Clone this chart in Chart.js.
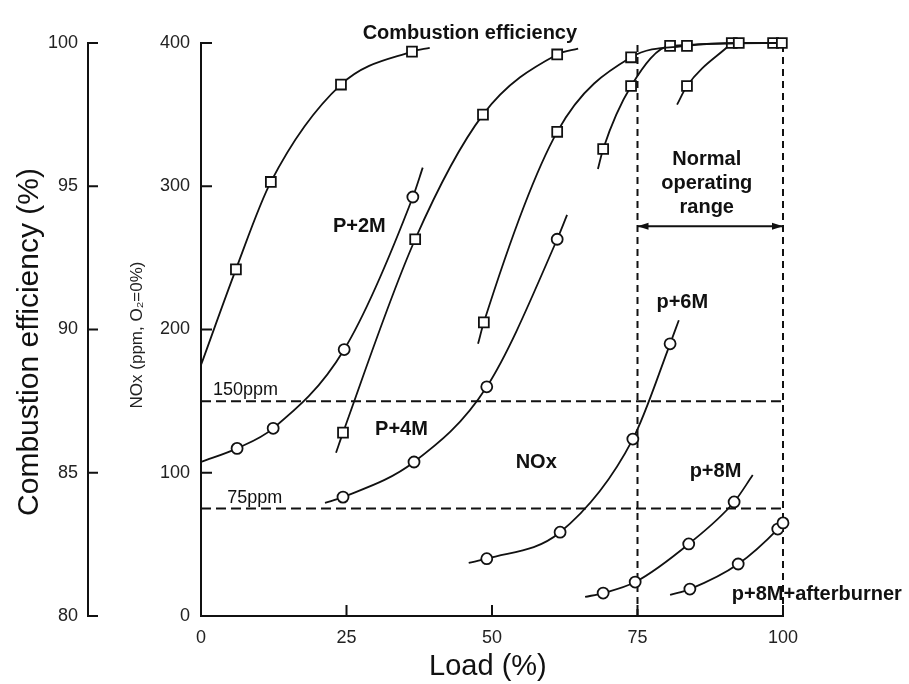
<!DOCTYPE html>
<html>
<head>
<meta charset="utf-8">
<script src="https://cdn.jsdelivr.net/npm/chart.js@4.4.0/dist/chart.umd.min.js"></script>
<style>
  html, body { margin: 0; padding: 0; background: #fff; }
</style>
</head>
<body>
<canvas id="myChart" width="909" height="684"></canvas>
<script>
// tick labels
var loadTicks = [0, 25, 50, 75, 100];
var noxTicks = [0, 100, 200, 300, 400];
var effTicks = [80, 85, 90, 95, 100];

// NOx (ppm) against load (%), circles
var loadP2M = [0, 6.2, 12.4, 24.6, 36.4, 38.1];
var noxP2M = [107.5, 117, 131, 186, 292.5, 313];
var loadP4M = [21.3, 24.4, 36.6, 49.1, 61.2, 62.9];
var noxP4M = [79, 83, 107.5, 160, 263, 280];
var loadP6M = [46.0, 49.1, 61.7, 74.2, 80.6, 82.1];
var noxP6M = [37, 40, 58.5, 123.5, 190, 206.5];
var loadP8M = [66.0, 69.1, 74.6, 83.8, 91.6, 94.8];
var noxP8M = [13.3, 16, 23.7, 50.3, 79.6, 98.4];
var loadAB = [80.6, 84.0, 92.3, 99.1, 100];
var noxAB = [14.7, 18.8, 36.3, 60.7, 65];

// combustion efficiency (%) against load (%), squares
var loadEffA = [0, 6.0, 12.0, 24.05, 36.25, 39.3];
var effA = [88.76, 92.1, 95.15, 98.55, 99.7, 99.83];
var loadEffB = [23.2, 24.4, 36.8, 48.45, 61.2, 64.8];
var effB = [85.7, 86.4, 93.15, 97.5, 99.6, 99.8];
var loadEffC = [47.6, 48.6, 61.2, 73.9, 83.5, 92.4, 99.8];
var effC = [89.5, 90.25, 96.9, 99.5, 99.9, 100, 100];
var loadEffD = [68.2, 69.1, 73.9, 80.6, 98.3];
var effD = [95.6, 96.3, 98.5, 99.9, 100];
var loadEffE = [81.8, 83.5, 91.2];
var effE = [97.85, 98.5, 100];

// reference limits (ppm) and normal operating range (load %)
var limitsPpm = [150, 75];
var normalRange = [75, 100];
var rangeArrowAt = 272;

var labelFont = 'bold 20px "Liberation Sans", Arial, sans-serif';
var plainFont = '18px "Liberation Sans", Arial, sans-serif';

// text notes placed in data units (load, NOx ppm)
var notes = [
    { text: 'Combustion efficiency', x: 46.2, y: 403, align: 'center', font: labelFont },
    { text: 'P+2M', x: 27.2, y: 268, align: 'center', font: labelFont },
    { text: 'P+4M', x: 34.45, y: 126.4, align: 'center', font: labelFont },
    { text: 'NOx', x: 57.6, y: 103.3, align: 'center', font: labelFont },
    { text: 'p+6M', x: 82.7, y: 215, align: 'center', font: labelFont },
    { text: 'p+8M', x: 88.4, y: 97, align: 'center', font: labelFont },
    { text: 'p+8M+afterburner', x: 91.2, y: 11.2, align: 'left', font: labelFont },
    { text: 'Normal', x: 86.9, y: 315, align: 'center', font: labelFont },
    { text: 'operating', x: 86.9, y: 298, align: 'center', font: labelFont },
    { text: 'range', x: 86.9, y: 281, align: 'center', font: labelFont },
    { text: '150ppm', x: 2.06, y: 154, align: 'left', font: plainFont },
    { text: '75ppm', x: 4.5, y: 79, align: 'left', font: plainFont }
];

function curve(loads, vals, axis, style, bareEnd) {
    var pts = loads.map(function (l, i) { return { x: l, y: vals[i] }; });
    var n = pts.length;
    var r = style === 'rect' ? 7 : 5.5;
    return {
        data: pts,
        yAxisID: axis,
        borderColor: '#111',
        borderWidth: 1.8,
        fill: false,
        cubicInterpolationMode: 'monotone',
        pointStyle: style,
        pointRadius: pts.map(function (p, i) { return (i === 0 || (i === n - 1 && bareEnd)) ? 0 : r; }),
        pointBackgroundColor: '#fff',
        pointBorderColor: '#111',
        pointBorderWidth: 1.8,
        clip: false
    };
}

function dashed(pts, dash) {
    return {
        data: pts,
        yAxisID: 'y',
        borderColor: '#111',
        borderWidth: 2,
        borderDash: dash,
        pointRadius: 0,
        fill: false,
        clip: false
    };
}

var datasets = [
    curve(loadP2M, noxP2M, 'y', 'circle', true),
    curve(loadP4M, noxP4M, 'y', 'circle', true),
    curve(loadP6M, noxP6M, 'y', 'circle', true),
    curve(loadP8M, noxP8M, 'y', 'circle', true),
    curve(loadAB, noxAB, 'y', 'circle', false),
    curve(loadEffA, effA, 'eff', 'rect', true),
    curve(loadEffB, effB, 'eff', 'rect', true),
    curve(loadEffC, effC, 'eff', 'rect', false),
    curve(loadEffD, effD, 'eff', 'rect', false),
    curve(loadEffE, effE, 'eff', 'rect', false),
    // arrow shaft of the normal operating range
    dashed([{ x: normalRange[0], y: rangeArrowAt }, { x: normalRange[1], y: rangeArrowAt }], [])
];
limitsPpm.forEach(function (v) {
    datasets.push(dashed([{ x: loadTicks[0], y: v }, { x: loadTicks[loadTicks.length - 1], y: v }], [10, 5]));
});
normalRange.forEach(function (v) {
    datasets.push(dashed([{ x: v, y: noxTicks[0] }, { x: v, y: noxTicks[noxTicks.length - 1] }], [7, 5]));
});

var decor = {
    id: 'decor',
    afterDraw: function (chart) {
        var ctx = chart.ctx, sx = chart.scales.x, sy = chart.scales.y, se = chart.scales.eff;
        ctx.save();
        ctx.strokeStyle = '#111';
        ctx.fillStyle = '#111';
        ctx.lineWidth = 2;

        // tick marks pointing into the plot
        ctx.beginPath();
        sx.ticks.forEach(function (t) {
            var px = sx.getPixelForValue(t.value);
            ctx.moveTo(px, sx.top); ctx.lineTo(px, sx.top - 11);
        });
        sy.ticks.forEach(function (t) {
            var py = sy.getPixelForValue(t.value);
            ctx.moveTo(sy.right, py); ctx.lineTo(sy.right + 11, py);
        });
        se.ticks.forEach(function (t) {
            var py = se.getPixelForValue(t.value);
            ctx.moveTo(se.right, py); ctx.lineTo(se.right + 10, py);
        });
        ctx.stroke();

        // arrow heads
        var ay = sy.getPixelForValue(rangeArrowAt);
        var a0 = sx.getPixelForValue(normalRange[0]);
        var a1 = sx.getPixelForValue(normalRange[1]);
        ctx.beginPath();
        ctx.moveTo(a0, ay); ctx.lineTo(a0 + 11, ay - 3.5); ctx.lineTo(a0 + 11, ay + 3.5); ctx.closePath();
        ctx.moveTo(a1, ay); ctx.lineTo(a1 - 11, ay - 3.5); ctx.lineTo(a1 - 11, ay + 3.5); ctx.closePath();
        ctx.fill();

        // notes
        ctx.textBaseline = 'alphabetic';
        notes.forEach(function (n) {
            ctx.font = n.font;
            ctx.textAlign = n.align;
            ctx.fillText(n.text, sx.getPixelForValue(n.x), sy.getPixelForValue(n.y));
        });

        // axis titles
        ctx.font = '29px "Liberation Sans", Arial, sans-serif';
        ctx.textAlign = 'center';
        ctx.fillText('Load (%)', sx.getPixelForValue(49.3), 675);

        ctx.save();
        ctx.translate(38, 342);
        ctx.rotate(-Math.PI / 2);
        ctx.font = '30px "Liberation Sans", Arial, sans-serif';
        ctx.fillText('Combustion efficiency (%)', 0, 0);
        ctx.restore();

        ctx.save();
        ctx.translate(142, 335);
        ctx.rotate(-Math.PI / 2);
        ctx.font = '17px "Liberation Sans", Arial, sans-serif';
        ctx.fillStyle = '#222';
        ctx.fillText('NOx (ppm, O\u2082=0%)', 0, 0);
        ctx.restore();

        ctx.restore();
    }
};

function setTicks(list) {
    return function (scale) {
        scale.ticks = list.map(function (v) { return { value: v }; });
    };
}

var tickFont = { family: '"Liberation Sans", Arial, sans-serif', size: 18 };
var ctx = document.getElementById('myChart').getContext('2d');
var myChart = new Chart(ctx, {
    type: 'line',
    data: { datasets: datasets },
    plugins: [decor],
    options: {
        responsive: false,
        animation: false,
        layout: { padding: { top: 43, right: 126, bottom: 0, left: 0 } },
        plugins: {
            legend: { display: false },
            tooltip: { enabled: false }
        },
        scales: {
            x: {
                type: 'linear', position: 'bottom', min: 0, max: 100,
                afterBuildTicks: setTicks(loadTicks),
                afterFit: function (s) { s.height = 68; },
                ticks: { padding: 11, font: tickFont, color: '#222' },
                grid: { display: false, drawTicks: false },
                border: { color: '#111', width: 2 }
            },
            y: {
                type: 'linear', position: 'left', min: 0, max: 400, weight: 0,
                afterBuildTicks: setTicks(noxTicks),
                afterFit: function (s) { s.width = 113; },
                ticks: { padding: 11, font: tickFont, color: '#222' },
                grid: { display: false, drawTicks: false },
                border: { color: '#111', width: 2 }
            },
            eff: {
                type: 'linear', position: 'left', min: 80, max: 100, weight: 1,
                afterBuildTicks: setTicks(effTicks),
                afterFit: function (s) { s.width = 88; },
                ticks: { padding: 10, font: tickFont, color: '#222' },
                grid: { display: false, drawTicks: false },
                border: { color: '#111', width: 2 }
            }
        }
    }
});
</script>
</body>
</html>
